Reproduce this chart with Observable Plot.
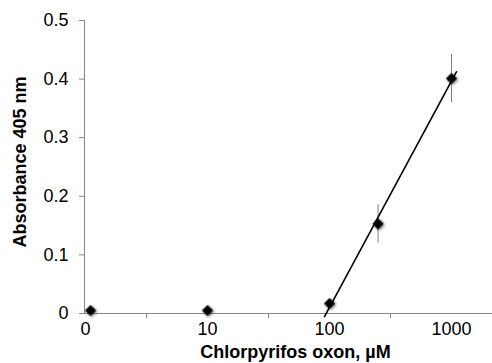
<!DOCTYPE html>
<html>
<head>
<meta charset="utf-8">
<script src="https://cdn.jsdelivr.net/npm/d3@7"></script>
<script src="https://cdn.jsdelivr.net/npm/@observablehq/plot@0.6"></script>
<style>
  html, body { margin: 0; padding: 0; background: #fff; }
  .pts { filter: drop-shadow(1px 1px 1.5px rgba(0,0,0,0.6)); }
</style>
</head>
<body>
<div id="chart"></div>
<script>
// Data
const concentrations = [1.1, 10, 100, 250, 1000];   // µM ("0" plotted at the first log position)
const absorbance     = [0.005, 0.005, 0.017, 0.153, 0.401];
const errors         = [0, 0, 0, 0.033, 0.041];
const xTickValues    = [1, 10, 100, 1000];
const xTickLabels    = ["0", "10", "100", "1000"];
const xMinorTicks    = [Math.sqrt(10), 10 * Math.sqrt(10), 100 * Math.sqrt(10)];
const yTickValues    = [0, 0.1, 0.2, 0.3, 0.4, 0.5];
const trendRange     = [91, 1100];   // extent of the fitted trendline (points >= 100 µM)

const data = concentrations.map((x, i) => ({x, y: absorbance[i], e: errors[i]}));

// Least-squares fit of absorbance vs log10(concentration) for the rising points
const fitPts = data.filter(d => d.x >= 100);
const lx = fitPts.map(d => Math.log10(d.x));
const mx = d3.mean(lx), my = d3.mean(fitPts, d => d.y);
const slope = d3.sum(fitPts, (d, i) => (lx[i] - mx) * (d.y - my)) / d3.sum(lx, v => (v - mx) ** 2);
const intercept = my - slope * mx;
const trend = trendRange.map(x => ({x, y: slope * Math.log10(x) + intercept}));

const labelMap = new Map(xTickValues.map((v, i) => [v, xTickLabels[i]]));
const axisColor = "#878787";

const chart = Plot.plot({
  width: 492,
  height: 363,
  marginLeft: 84,
  marginRight: 0,
  marginTop: 20,
  marginBottom: 50,
  style: {fontFamily: "'Liberation Sans', Arial, sans-serif", fontSize: "18px", color: "#000", background: "#fff"},
  x: {type: "log", domain: [0.981, 2168], axis: null},
  y: {domain: [0, 0.5], axis: null},
  marks: [
    Plot.ruleX([0.981], {y1: 0, y2: 0.5, stroke: axisColor}),
    Plot.ruleY([0], {stroke: axisColor}),
    Plot.axisY({ticks: yTickValues, tickSize: 5, tickPadding: 11, stroke: axisColor, label: null,
      tickFormat: d => d === 0 ? "0" : d.toFixed(1), fill: "#000", fontSize: 18}),
    Plot.axisX({ticks: xMinorTicks, tickSize: 5, tickFormat: () => "", stroke: axisColor, label: null}),
    Plot.axisX({ticks: xTickValues, tickSize: 0, tickPadding: 9, label: null,
      tickFormat: d => labelMap.get(d), fill: "#000", fontSize: 18}),
    Plot.ruleX(data.filter(d => d.e > 0), {x: "x", y1: d => d.y - d.e, y2: d => d.y + d.e, stroke: "#808080", strokeWidth: 1}),
    Plot.dot(data, {x: "x", y: "y", symbol: "diamond2", r: 5, fill: "#000", stroke: "none", className: "pts"}),
    Plot.line(trend, {x: "x", y: "y", stroke: "#000", strokeWidth: 1.6}),
    Plot.text(["Absorbance 405 nm"], {frameAnchor: "left", textAnchor: "middle", rotate: -90, dx: -64, dy: -5,
      fontWeight: "bold", fontSize: 18, fill: "#000"}),
    Plot.text(["Chlorpyrifos oxon, µM"], {frameAnchor: "bottom", dx: 7, dy: 39, lineAnchor: "middle",
      fontWeight: "bold", fontSize: 18, fill: "#000"})
  ]
});
document.getElementById("chart").appendChild(chart);
</script>
</body>
</html>
